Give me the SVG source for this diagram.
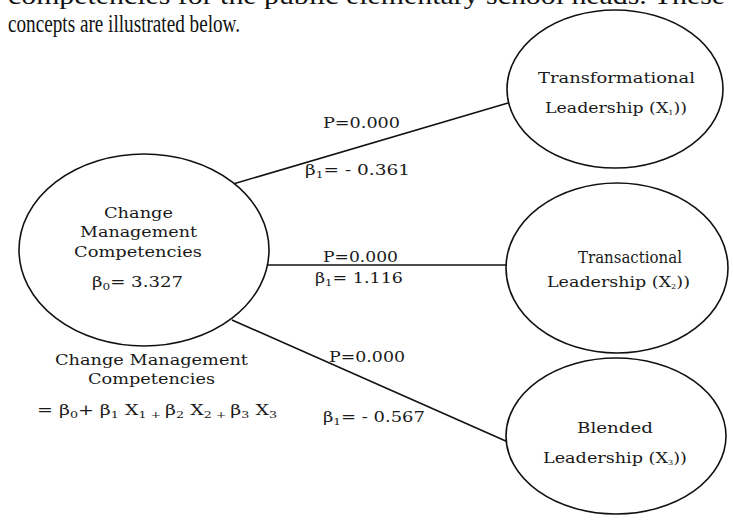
<svg xmlns="http://www.w3.org/2000/svg" width="733" height="523" viewBox="0 0 733 523">
<style>
.body{font-family:"Liberation Serif","Times New Roman",serif;font-size:25px;fill:#111}
.t{font-family:"DejaVu Serif","Liberation Serif",serif;font-size:15px;fill:#1a1a1a}
.sub{font-size:10px}
.node{fill:#fff;stroke:#111;stroke-width:1.6}
.edge{stroke:#111;stroke-width:1.6;fill:none}
</style>
<rect width="733" height="523" fill="#fff"/>
<text class="body" x="8" y="4" textLength="717" lengthAdjust="spacingAndGlyphs">competencies for the public elementary school heads. These</text>
<text class="body" x="8" y="32" textLength="232" lengthAdjust="spacingAndGlyphs">concepts are illustrated below.</text>
<g id="connectors">
<line class="edge" x1="233" y1="184" x2="508" y2="103"/>
<line class="edge" x1="268" y1="265" x2="506" y2="265"/>
<line class="edge" x1="232" y1="320" x2="508" y2="442"/>
<text class="t" x="323" y="128" textLength="77" lengthAdjust="spacingAndGlyphs">P=0.000</text>
<text class="t" x="305" y="175" textLength="105" lengthAdjust="spacingAndGlyphs">β<tspan class="sub" dy="3">1</tspan><tspan dy="-3">= - 0.361</tspan></text>
<text class="t" x="323" y="262" textLength="75" lengthAdjust="spacingAndGlyphs">P=0.000</text>
<text class="t" x="315" y="283" textLength="88" lengthAdjust="spacingAndGlyphs">β<tspan class="sub" dy="3">1</tspan><tspan dy="-3">= 1.116</tspan></text>
<text class="t" x="329" y="362" textLength="76" lengthAdjust="spacingAndGlyphs">P=0.000</text>
<text class="t" x="323" y="422" textLength="102" lengthAdjust="spacingAndGlyphs">β<tspan class="sub" dy="3">1</tspan><tspan dy="-3">= - 0.567</tspan></text>
</g>
<g id="cmc">
<ellipse class="node" cx="144" cy="250" rx="125" ry="96"/>
<text class="t" x="104" y="218" textLength="69" lengthAdjust="spacingAndGlyphs">Change</text>
<text class="t" x="80" y="237" textLength="117" lengthAdjust="spacingAndGlyphs">Management</text>
<text class="t" x="74" y="257" textLength="128" lengthAdjust="spacingAndGlyphs">Competencies</text>
<text class="t" x="92" y="287" textLength="91" lengthAdjust="spacingAndGlyphs">β<tspan class="sub" dy="3">0</tspan><tspan dy="-3">= 3.327</tspan></text>
</g>
<g id="equation">
<text class="t" x="55" y="365" textLength="193" lengthAdjust="spacingAndGlyphs">Change Management</text>
<text class="t" x="88" y="384" textLength="127" lengthAdjust="spacingAndGlyphs">Competencies</text>
<text class="t" x="37" y="415" textLength="240" lengthAdjust="spacingAndGlyphs">= β<tspan class="sub" dy="3">0</tspan><tspan dy="-3">+ β</tspan><tspan class="sub" dy="3">1</tspan><tspan dy="-3"> X</tspan><tspan class="sub" dy="3">1 + </tspan><tspan dy="-3">β</tspan><tspan class="sub" dy="3">2</tspan><tspan dy="-3"> X</tspan><tspan class="sub" dy="3">2 + </tspan><tspan dy="-3">β</tspan><tspan class="sub" dy="3">3</tspan><tspan dy="-3"> X</tspan><tspan class="sub" dy="3">3</tspan></text>
</g>
<g id="transformational">
<ellipse class="node" cx="615" cy="89" rx="108" ry="79"/>
<text class="t" x="538" y="83" textLength="157" lengthAdjust="spacingAndGlyphs">Transformational</text>
<text class="t" x="545" y="113" textLength="142" lengthAdjust="spacingAndGlyphs">Leadership (X<tspan style="font-size:7px" dy="2">1</tspan><tspan dy="-2">))</tspan></text>
</g>
<g id="transactional">
<ellipse class="node" cx="617" cy="268" rx="111" ry="85"/>
<text class="t" x="578" y="263" style="font-size:16.5px" textLength="104" lengthAdjust="spacingAndGlyphs">Transactional</text>
<text class="t" x="547" y="287" textLength="143" lengthAdjust="spacingAndGlyphs">Leadership (X<tspan style="font-size:7px" dy="2">2</tspan><tspan dy="-2">))</tspan></text>
</g>
<g id="blended">
<ellipse class="node" cx="616" cy="436" rx="110" ry="78"/>
<text class="t" x="577" y="433" textLength="76" lengthAdjust="spacingAndGlyphs">Blended</text>
<text class="t" x="543" y="463" textLength="144" lengthAdjust="spacingAndGlyphs">Leadership (X<tspan style="font-size:7px" dy="2">3</tspan><tspan dy="-2">))</tspan></text>
</g>
</svg>
